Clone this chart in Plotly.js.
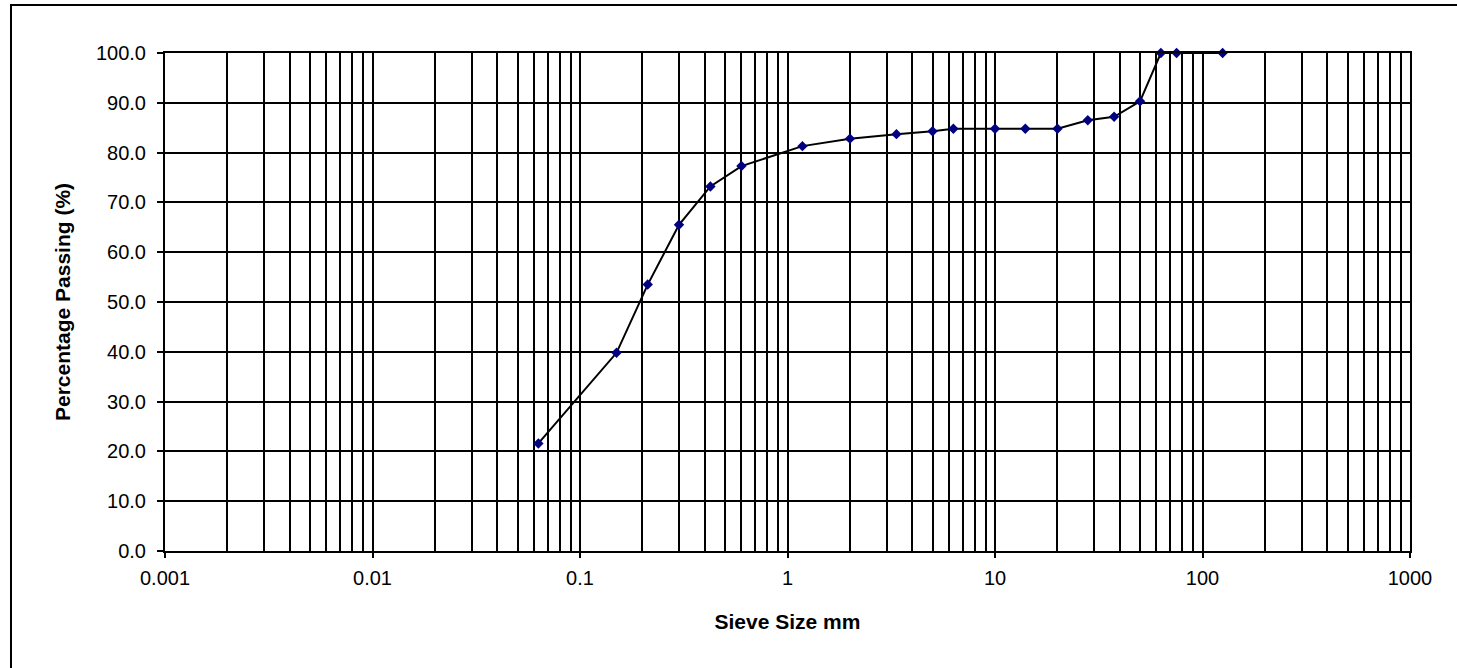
<!DOCTYPE html>
<html>
<head>
<meta charset="utf-8">
<script src="https://cdn.plot.ly/plotly-3.0.1.min.js"></script>
<style>
  html, body { margin: 0; padding: 0; background: #ffffff; }
  #chart { width: 1457px; height: 668px; }
</style>
</head>
<body>
<div id="chart"></div>
<script>
// Sieve sizes (mm) and percentage passing
const sieveSizes = [0.063, 0.15, 0.212, 0.3, 0.425, 0.6, 1.18, 2, 3.35, 5, 6.3, 10, 14, 20, 28, 37.5, 50, 63, 75, 125];
const percentPassing = [21.6, 39.8, 53.5, 65.5, 73.2, 77.3, 81.3, 82.8, 83.7, 84.3, 84.8, 84.8, 84.8, 84.8, 86.5, 87.2, 90.3, 100, 100, 100];

const xTickVals = [0.001, 0.01, 0.1, 1, 10, 100, 1000];
const xTickText = ['0.001', '0.01', '0.1', '1', '10', '100', '1000'];

const FONT = 'Liberation Sans, Arial, sans-serif';

const trace = {
  x: sieveSizes,
  y: percentPassing,
  type: 'scatter',
  mode: 'lines+markers',
  line: { color: '#000000', width: 2 },
  marker: { symbol: 'diamond', size: 8, color: '#000080' },
  cliponaxis: false,
  hoverinfo: 'x+y'
};

const layout = {
  width: 1457,
  height: 668,
  paper_bgcolor: '#ffffff',
  plot_bgcolor: '#ffffff',
  margin: { l: 165, r: 47, t: 53, b: 117 },
  showlegend: false,
  font: { family: FONT, size: 20, color: '#000000' },
  xaxis: {
    type: 'log',
    range: [-3, 3],
    tickvals: xTickVals,
    ticktext: xTickText,
    ticks: 'outside',
    ticklen: 5,
    tickwidth: 2,
    tickcolor: '#000000',
    ticklabelstandoff: 3,
    showgrid: true,
    gridcolor: '#000000',
    gridwidth: 2,
    minor: { dtick: 'D1', showgrid: true, gridcolor: '#000000', gridwidth: 2, ticks: '' },
    showline: true,
    linecolor: '#000000',
    linewidth: 2,
    mirror: true,
    zeroline: false,
    automargin: false,
    tickfont: { family: FONT, size: 20, color: '#000000' },
    title: { text: '<b>Sieve Size mm</b>', standoff: 26,
             font: { family: FONT, size: 21, color: '#000000' } }
  },
  yaxis: {
    range: [0, 100],
    dtick: 10,
    tick0: 0,
    tickformat: '.1f',
    ticks: 'outside',
    ticklen: 6,
    tickwidth: 2,
    tickcolor: '#000000',
    ticklabelstandoff: 7,
    showgrid: true,
    gridcolor: '#000000',
    gridwidth: 2,
    showline: true,
    linecolor: '#000000',
    linewidth: 2,
    mirror: true,
    zeroline: false,
    automargin: false,
    tickfont: { family: FONT, size: 20, color: '#000000' },
    title: { text: '<b>Percentage Passing (%)</b>', standoff: 20,
             font: { family: FONT, size: 21, color: '#000000' } }
  },
  shapes: [
    { type: 'rect', xref: 'paper', yref: 'paper',
      x0: (11 - 165) / 1245, x1: (1480 - 165) / 1245,
      y0: (551 - 690) / 498, y1: (551 - 5) / 498,
      line: { color: '#000000', width: 2 }, fillcolor: 'rgba(0,0,0,0)', layer: 'below' }
  ]
};

Plotly.newPlot('chart', [trace], layout, { displayModeBar: false, staticPlot: true });
</script>
</body>
</html>
